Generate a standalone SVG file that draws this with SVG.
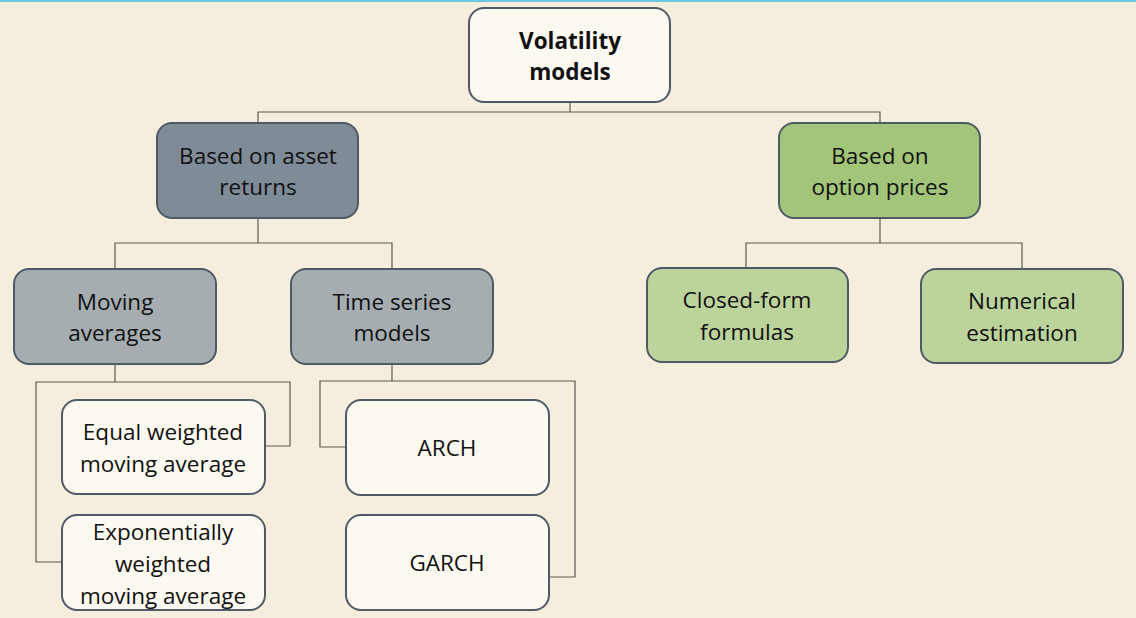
<svg xmlns="http://www.w3.org/2000/svg" width="1136" height="618" viewBox="0 0 1136 618">
<style>
.bg{fill:#F5EEDC}
.n{stroke:#4E5A66;stroke-width:2}
.w{fill:#FCF9F0}
.d{fill:#7F8C97}
.g{fill:#A6ADB0}
.lg{fill:#A2C57A}
.pg{fill:#BDD39C}
.c{fill:none;stroke:#5a5a55;stroke-width:1.2}
text{font-family:"Open Sans",Lato,sans-serif;font-size:22.5px;fill:#111;text-anchor:middle}
.b{font-weight:bold}
</style>
<rect class="bg" x="0" y="0" width="1136" height="618"/>
<rect x="0" y="0" width="1136" height="2" fill="#6CC8E0"/>
<g id="connectors">
<path class="c" d="M570,102V112M258,124V112H880V124"/>
<path class="c" d="M258,218V243M115,270V243H392V270"/>
<path class="c" d="M880,218V243M746,268V243H1022V268"/>
<path class="c" d="M115,364V382M62,562H36V382H290V446H265"/>
<path class="c" d="M392,364V381M346,447H320V381H575V577H549"/>
</g>
<g id="volatility-models">
<rect class="n w" x="469" y="8" width="201" height="94" rx="15"/>
<text class="b" x="570" y="49">Volatility</text>
<text class="b" x="570" y="80">models</text>
</g>
<g id="asset-returns">
<rect class="n d" x="157" y="123" width="201" height="95" rx="15"/>
<text x="258" y="164">Based on asset</text>
<text x="258" y="195">returns</text>
</g>
<g id="option-prices">
<rect class="n lg" x="779" y="123" width="201" height="95" rx="15"/>
<text x="880" y="164">Based on</text>
<text x="880" y="195">option prices</text>
</g>
<g id="moving-averages">
<rect class="n g" x="14" y="269" width="202" height="95" rx="15"/>
<text x="115" y="310">Moving</text>
<text x="115" y="341">averages</text>
</g>
<g id="time-series-models">
<rect class="n g" x="291" y="269" width="202" height="95" rx="15"/>
<text x="392" y="310">Time series</text>
<text x="392" y="341">models</text>
</g>
<g id="closed-form">
<rect class="n pg" x="647" y="268" width="201" height="94" rx="15"/>
<text x="747" y="308">Closed-form</text>
<text x="747" y="340">formulas</text>
</g>
<g id="numerical">
<rect class="n pg" x="921" y="269" width="202" height="94" rx="15"/>
<text x="1022" y="309">Numerical</text>
<text x="1022" y="341">estimation</text>
</g>
<g id="equal-weighted">
<rect class="n w" x="62" y="400" width="203" height="94" rx="15"/>
<text x="163" y="440">Equal weighted</text>
<text x="163" y="472">moving average</text>
</g>
<g id="exponentially-weighted">
<rect class="n w" x="62" y="515" width="203" height="95" rx="15"/>
<text x="163" y="540">Exponentially</text>
<text x="163" y="572">weighted</text>
<text x="163" y="604">moving average</text>
</g>
<g id="arch">
<rect class="n w" x="346" y="400" width="203" height="95" rx="15"/>
<text x="447" y="456">ARCH</text>
</g>
<g id="garch">
<rect class="n w" x="346" y="515" width="203" height="95" rx="15"/>
<text x="447" y="571">GARCH</text>
</g>
</svg>
